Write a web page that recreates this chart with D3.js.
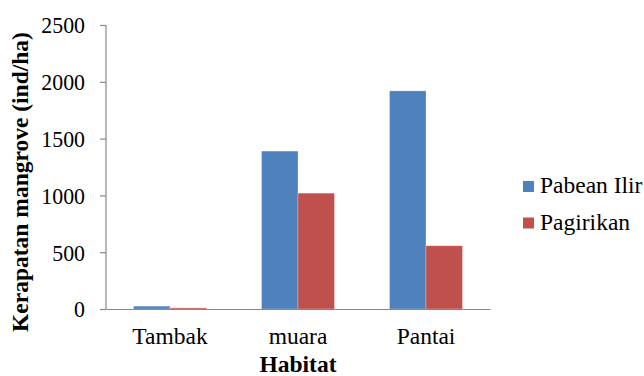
<!DOCTYPE html>
<html>
<head>
<meta charset="utf-8">
<script src="https://cdn.jsdelivr.net/npm/d3@7"></script>
<style>
  html, body { margin: 0; padding: 0; background: #fff; overflow: hidden; }
  svg { display: block; }
</style>
</head>
<body>
<svg id="chart" width="644" height="376"></svg>
<script>
// Mangrove density per habitat for the two sites
const habitats = ["Tambak", "muara", "Pantai"];
const seriesNames = ["Pabean Ilir", "Pagirikan"];
const pabeanIlir = [25, 1390, 1920];
const pagirikan = [10, 1020, 557];
const yTicks = [0, 500, 1000, 1500, 2000, 2500];
const colors = ["#4F81BD", "#C0504D"];

const seriesValues = [pabeanIlir, pagirikan];
const FONT = '"Liberation Serif", "Times New Roman", serif';
const FS = "23.5px";

const svg = d3.select("#chart");
const margin = { left: 106, right: 154, top: 25, bottom: 67 };
const width = 644, height = 376;
const plotW = width - margin.left - margin.right;
const plotH = height - margin.top - margin.bottom;

const g = svg.append("g").attr("transform", `translate(${margin.left},${margin.top})`);

const x0 = d3.scaleBand().domain(habitats).range([0, plotW]).paddingInner(0.43).paddingOuter(0.215);
const x1 = d3.scaleBand().domain(seriesNames).range([0, x0.bandwidth()]);
const y = d3.scaleLinear().domain([0, 2500]).range([plotH, 0]);

// Bars
habitats.forEach((h, i) => {
  seriesNames.forEach((s, j) => {
    const v = seriesValues[j][i];
    g.append("rect")
      .attr("x", x0(h) + x1(s))
      .attr("y", y(v))
      .attr("width", x1.bandwidth())
      .attr("height", plotH - y(v))
      .attr("fill", colors[j])
      .attr("stroke", "#ffffff")
      .attr("stroke-opacity", 0.35)
      .attr("stroke-width", 0.8);
  });
});

// Y axis with slightly narrowed numerals
const yAxis = d3.axisLeft(y).tickValues(yTicks).tickSize(6).tickPadding(15).tickFormat(d3.format("d"));
const yg = g.append("g").call(yAxis);
yg.select(".domain").attr("stroke", "#888").attr("stroke-width", 1.2).attr("d", `M0,${plotH}V0`);
yg.selectAll(".tick line").attr("stroke", "#888").attr("stroke-width", 1.2);
yg.selectAll(".tick text")
  .attr("x", 0)
  .attr("transform", "translate(-21,0) scale(0.93,1)")
  .attr("dy", "0.34em")
  .attr("fill", "#000")
  .style("font-family", FONT).style("font-size", FS);

// X axis (line only, no ticks)
const xAxis = d3.axisBottom(x0).tickSize(0).tickPadding(18);
const xg = g.append("g").attr("transform", `translate(0,${plotH})`).call(xAxis);
xg.select(".domain").attr("stroke", "#888").attr("stroke-width", 1.2);
xg.selectAll(".tick text")
  .attr("fill", "#000")
  .style("font-family", FONT).style("font-size", FS);

// Axis titles
svg.append("text")
  .attr("x", margin.left + plotW / 2)
  .attr("y", 372)
  .attr("text-anchor", "middle")
  .style("font-family", FONT).style("font-size", FS).style("font-weight", "bold")
  .text("Habitat");

svg.append("text")
  .attr("transform", `translate(28,182) rotate(-90)`)
  .attr("text-anchor", "middle")
  .style("font-family", FONT).style("font-size", FS).style("font-weight", "bold")
  .text("Kerapatan mangrove (ind/ha)");

// Legend
const legend = svg.append("g").attr("transform", "translate(523,181)");
seriesNames.forEach((s, j) => {
  const row = legend.append("g").attr("transform", `translate(0,${j * 36.5})`);
  row.append("rect").attr("width", 11).attr("height", 11).attr("fill", colors[j]);
  row.append("text").attr("x", 17).attr("y", 12)
    .style("font-family", FONT).style("font-size", FS).text(s);
});
</script>
</body>
</html>
